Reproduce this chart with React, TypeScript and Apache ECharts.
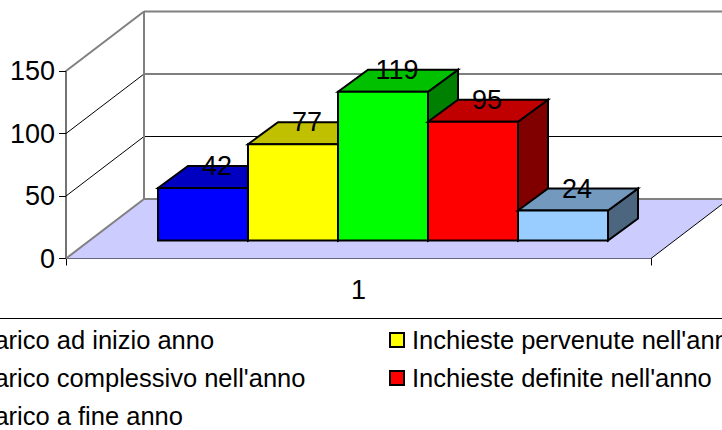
import React, { useEffect, useRef } from "react";
import * as echarts from "echarts";

const categories = ["1"];
const seriesNames = [
  "Carico ad inizio anno",
  "Inchieste pervenute nell'anno",
  "Carico complessivo nell'anno",
  "Inchieste definite nell'anno",
  "Carico a fine anno",
];
const seriesValues = [42, 77, 119, 95, 24];
const yTicks = [0, 50, 100, 150];
const frontColors = ["#0000FF", "#FFFF00", "#00FF00", "#FF0000", "#99CCFF"];
const topColors = ["#0000C0", "#C0C000", "#00C000", "#C00000", "#7399BF"];
const sideColors = ["#000080", "#808000", "#008000", "#800000", "#4D6680"];
const leftLegend = [seriesNames[0], seriesNames[2], seriesNames[4]];
const rightLegend = [seriesNames[1], seriesNames[3]];

const WALL_DX = 78;
const WALL_DY = -59.5;
const BAR_DX = 30;
const BAR_DY = -22;
const BAR_FRONT_DX = 24.5;
const BAR_FRONT_DY = -18;
const BAR_FRACTION = 90 / 585;
const FONT = '"Liberation Sans", Arial, sans-serif';

function wallItem(_p: any, api: any) {
  const tick = api.value(1);
  const [cx, y] = api.coord([0, tick]);
  const band = api.size([1, 0])[0];
  const l = cx - band / 2;
  const r = cx + band / 2;
  const isEdge = tick === 0 || tick === yTicks[yTicks.length - 1];
  const stroke = isEdge ? "#808080" : "#000000";
  const lw = isEdge ? 2 : 1;
  const children: any[] = [];
  if (tick === 0) {
    children.push({
      type: "polygon",
      shape: { points: [[l, y], [r, y], [r + WALL_DX, y + WALL_DY], [l + WALL_DX, y + WALL_DY]] },
      style: { fill: "#CCCCFF", stroke: "none" },
    });
    children.push({
      type: "line",
      shape: { x1: r, y1: y, x2: r + WALL_DX, y2: y + WALL_DY },
      style: { stroke: "#000000", lineWidth: 1 },
    });
  }
  if (tick === yTicks[yTicks.length - 1]) {
    const [, y0] = api.coord([0, 0]);
    children.push({
      type: "line",
      shape: { x1: l + WALL_DX, y1: y + WALL_DY, x2: l + WALL_DX, y2: y0 + WALL_DY },
      style: { stroke: "#808080", lineWidth: 2 },
    });
  }
  children.push({
    type: "line",
    shape: { x1: l, y1: y, x2: l + WALL_DX, y2: y + WALL_DY },
    style: { stroke, lineWidth: lw },
  });
  children.push({
    type: "line",
    shape: { x1: l + WALL_DX, y1: y + WALL_DY, x2: r + WALL_DX, y2: y + WALL_DY },
    style: { stroke, lineWidth: lw },
  });
  return { type: "group", children };
}

function barItem(index: number) {
  return (_p: any, api: any) => {
    const value = api.value(1);
    const [cx, yTop] = api.coord([0, value]);
    const [, yBase] = api.coord([0, 0]);
    const band = api.size([1, 0])[0];
    const w = band * BAR_FRACTION;
    const x0 = cx + (index - 2.5) * w + BAR_FRONT_DX;
    const x1 = x0 + w;
    const top = yTop + BAR_FRONT_DY;
    const bottom = yBase + BAR_FRONT_DY;
    const line = { stroke: "#000000", lineWidth: 2, lineJoin: "miter" };
    return {
      type: "group",
      children: [
        {
          type: "polygon",
          shape: { points: [[x1, top], [x1 + BAR_DX, top + BAR_DY], [x1 + BAR_DX, bottom + BAR_DY], [x1, bottom]] },
          style: { fill: sideColors[index], ...line },
        },
        {
          type: "polygon",
          shape: { points: [[x0, top], [x0 + BAR_DX, top + BAR_DY], [x1 + BAR_DX, top + BAR_DY], [x1, top]] },
          style: { fill: topColors[index], ...line },
        },
        {
          type: "rect",
          shape: { x: x0, y: top, width: w, height: bottom - top },
          style: { fill: frontColors[index], ...line },
        },
        {
          type: "text",
          style: {
            text: String(value),
            x: (x0 + x1) / 2 + 14,
            y: top + BAR_DY,
            align: "center",
            verticalAlign: "middle",
            font: `27px ${FONT}`,
            fill: "#000000",
          },
        },
      ],
    };
  };
}

export default function App() {
  const ref = useRef<HTMLDivElement>(null);
  useEffect(() => {
    const chart = echarts.init(ref.current!, null, { renderer: "svg" });
    const legendCommon = {
      orient: "vertical" as const,
      icon: "rect",
      itemWidth: 14,
      itemHeight: 14,
      itemGap: 12,
      padding: 0,
      selectedMode: false,
      textStyle: { fontFamily: FONT, fontSize: 25.5, color: "#000000", lineHeight: 26, padding: [0, 0, 0, 3] },
    };
    chart.setOption({
      animation: false,
      backgroundColor: "#FFFFFF",
      grid: { left: 66, top: 71, width: 585, height: 187.5, containLabel: false },
      xAxis: {
        type: "category",
        data: categories,
        axisLine: { lineStyle: { color: "#000000", width: 1 } },
        axisTick: { show: true, length: 7, lineStyle: { color: "#000000" } },
        axisLabel: { margin: 18, fontFamily: FONT, fontSize: 27, color: "#000000" },
      },
      yAxis: {
        type: "value",
        min: 0,
        max: 150,
        interval: 50,
        axisLine: { show: true, lineStyle: { color: "#444444", width: 1.5 } },
        axisTick: { show: true, length: 7, lineStyle: { color: "#000000" } },
        splitLine: { show: false },
        axisLabel: { margin: 11, fontFamily: FONT, fontSize: 27, color: "#000000" },
      },
      legend: [
        { ...legendCommon, data: leftLegend, left: -47, top: 327 },
        { ...legendCommon, data: rightLegend, left: 389, top: 327 },
      ],
      graphic: [
        {
          type: "line",
          shape: { x1: 0, y1: 318.5, x2: 722, y2: 318.5 },
          style: { stroke: "#000000", lineWidth: 1 },
        },
      ],
      series: [
        {
          type: "custom",
          name: "walls",
          silent: true,
          clip: false,
          z: 1,
          renderItem: wallItem,
          data: yTicks.map((t) => [0, t]),
        },
        ...seriesNames.map((name, i) => ({
          type: "custom",
          name,
          clip: false,
          z: 3,
          renderItem: barItem(i),
          itemStyle: { color: frontColors[i], borderColor: "#000000", borderWidth: 2 },
          data: [[0, seriesValues[i]]],
        })),
      ],
    });
    return () => chart.dispose();
  }, []);
  return <div ref={ref} style={{ position: "fixed", left: 0, top: 0, width: 722, height: 430 }} />;
}
